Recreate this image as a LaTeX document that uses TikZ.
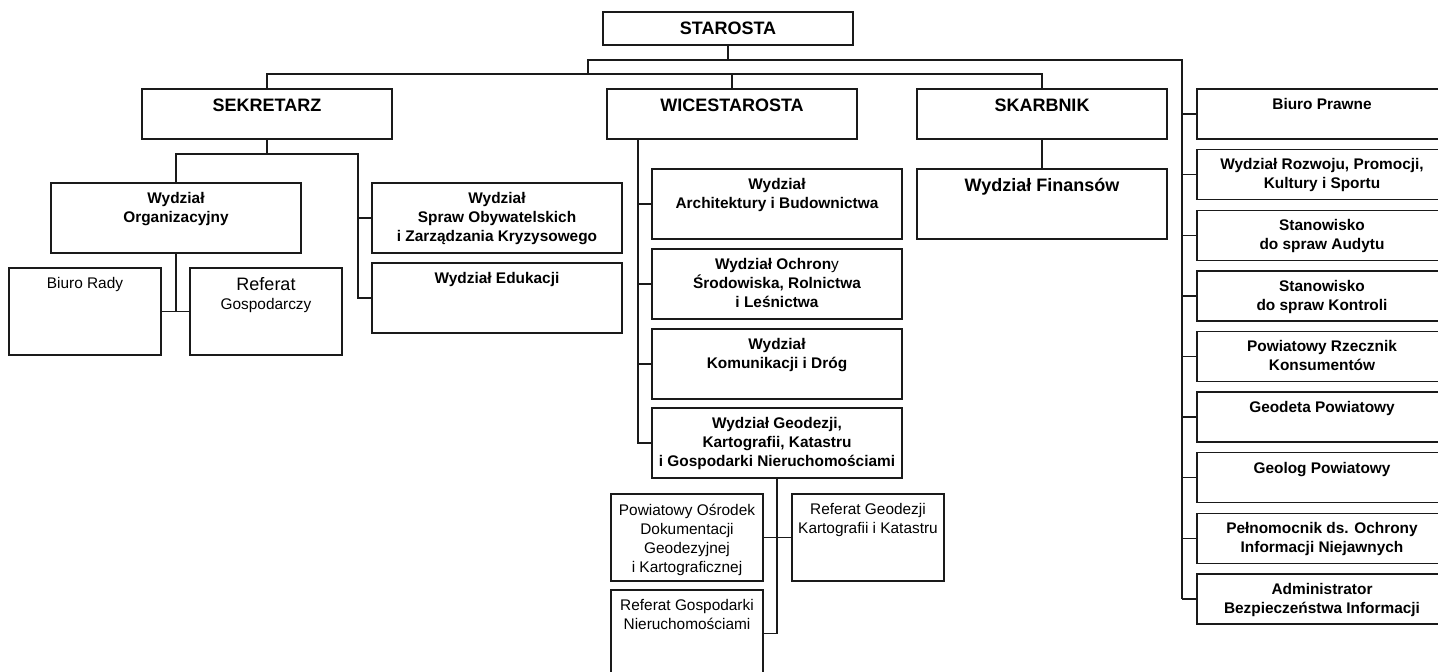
\documentclass[tikz,border=0pt]{standalone}
\usepackage{fontspec}
\setmainfont{Liberation Sans}
\usepackage{xcolor}
\definecolor{cLine}{HTML}{1A1A1A}
\usepackage{tikz}
\usetikzlibrary{positioning}
\newcommand\fHead{\fontsize{18}{21}\selectfont\bfseries}
\newcommand\fBold{\fontsize{15.4}{19}\selectfont\bfseries}
\newcommand\fPlain{\fontsize{15.4}{19}\selectfont}
\tikzset{
  node-box/.style={draw=cLine,line width=1.3pt,inner sep=0pt,outer sep=0pt,
    anchor=north west,minimum width=250pt},
  node-top/.style={node-box,minimum height=33pt},
  node-head/.style={node-box,minimum height=50pt},
  node-dept/.style={node-box,minimum height=70pt},
  node-unit/.style={node-box,minimum width=152pt,minimum height=87pt},
  % teksty przy gornej krawedzi ramki
  txt-head/.style={anchor=north,inner sep=0pt,yshift=-9.5pt,font=\fHead,align=center},
  txt-bold/.style={anchor=north,inner sep=0pt,yshift=-9pt,font=\fBold,align=center},
  txt-plain/.style={anchor=north,inner sep=0pt,yshift=-9.5pt,font=\fPlain,align=center},
  link/.style={draw=cLine,line width=1.3pt},
}

\begin{document}
\begin{tikzpicture}[x=1pt,y=-1pt]
  \useasboundingbox (0,0) rectangle (1438,672);
  % kierownictwo
  \node[node-top,label={[txt-head]north:STAROSTA}] (star) at (603,12) {};
  \node[node-head,label={[txt-head]north:SEKRETARZ}] (sek) at (142,89) {};
  \node[node-head,label={[txt-head]north:WICESTAROSTA}] (wice) at (607,89) {};
  \node[node-head,label={[txt-head]north:SKARBNIK}] (skar) at (917,89) {};
  \node[node-dept,label={[txt-head]north:Wydział Finansów}] (fin) at (917,169) {};

  % stanowiska podlegle staroscie
  \node[node-head,label={[txt-bold]north:Biuro Prawne}] (prawne) at (1197,89) {};
  \node[node-head,label={[txt-bold]north:{Wydział Rozwoju, Promocji,\\Kultury i Sportu}}] (rozwoj) at (1197,149.6) {};
  \node[node-head,label={[txt-bold]north:{Stanowisko\\do spraw Audytu}}] (audyt) at (1197,210.2) {};
  \node[node-head,label={[txt-bold]north:{Stanowisko\\do spraw Kontroli}}] (kontrola) at (1197,270.9) {};
  \node[node-head,label={[txt-bold]north:{Powiatowy Rzecznik\\Konsumentów}}] (rzecznik) at (1197,331.5) {};
  \node[node-head,label={[txt-bold]north:Geodeta Powiatowy}] (geodeta) at (1197,392.1) {};
  \node[node-head,label={[txt-bold]north:Geolog Powiatowy}] (geolog) at (1197,452.7) {};
  \node[node-head,label={[txt-bold]north:{Pełnomocnik ds. Ochrony\\Informacji Niejawnych}}] (pelnom) at (1197,513.4) {};
  \node[node-head,label={[txt-bold]north:{Administrator\\Bezpieczeństwa Informacji}}] (adm) at (1197,574) {};

  % pion sekretarza
  \node[node-dept,label={[txt-bold]north:{Wydział\\Organizacyjny}}] (org) at (51,183) {};
  \node[node-dept,label={[txt-bold]north:{Wydział\\Spraw Obywatelskich\\i Zarządzania Kryzysowego}}] (spraw) at (372,183) {};
  \node[node-dept,label={[txt-bold]north:Wydział Edukacji}] (edu) at (372,263) {};
  \node[node-unit,label={[txt-plain]north:Biuro Rady}] (biuro) at (9,268) {};
  \node[node-unit,label={[txt-plain]north:{{\fontsize{18}{21}\selectfont Referat}\\Gospodarczy}}] (refg) at (190,268) {};

  % pion wicestarosty
  \node[node-dept,label={[txt-bold]north:{Wydział\\Architektury i Budownictwa}}] (arch) at (652,169) {};
  \node[node-dept,label={[txt-bold]north:{Wydział Ochron{\mdseries y}\\Środowiska, Rolnictwa\\i Leśnictwa}}] (ochr) at (652,249) {};
  \node[node-dept,label={[txt-bold]north:{Wydział\\Komunikacji i Dróg}}] (kom) at (652,329) {};
  \node[node-dept,label={[txt-bold]north:{Wydział Geodezji,\\Kartografii, Katastru\\i Gospodarki Nieruchomościami}}] (geo) at (652,408) {};
  \node[node-unit,label={[txt-plain]north:{Powiatowy Ośrodek\\Dokumentacji\\Geodezyjnej\\i Kartograficznej}}] (pod) at (611,494) {};
  \node[node-unit,label={[txt-plain]north:{Referat Geodezji\\Kartografii i Katastru}}] (rgk) at (792,494) {};
  \node[node-unit,label={[txt-plain]north:{Referat Gospodarki\\Nieruchomościami}}] (rgn) at (611,590) {};

  % polaczenia
  \coordinate (bus-top) at (588,60);
  \coordinate (bus-right) at (1182,60);
  \coordinate (bus-low) at (588,74);
  \draw[link] (star.south) -- (star.south |- bus-top);
  \draw[link] (bus-low) -- (bus-top) -- (bus-right) -- (bus-right |- adm.west);
  \draw[link] (sek.north) -- (sek.north |- bus-low) -- (skar.north |- bus-low) -- (skar.north);
  \draw[link] (wice.north) -- (wice.north |- bus-low);
  \foreach \n in {prawne,rozwoj,audyt,kontrola,rzecznik,geodeta,geolog,pelnom,adm}
    \draw[link] (bus-right |- \n.west) -- (\n.west);
  \draw[link] (skar.south) -- (fin.north);

  \coordinate (sek-bus) at (358,154);
  \draw[link] (sek.south) -- (sek.south |- sek-bus);
  \draw[link] (org.north) -- (org.north |- sek-bus) -- (sek-bus) |- (edu.west);
  \draw[link] (sek-bus |- spraw.west) -- (spraw.west);
  \draw[link] (org.south) -- (org.south |- biuro.east);
  \draw[link] (biuro.east) -- (refg.west);

  \coordinate (wice-bus) at (638,139);
  \draw[link] (wice-bus) |- (geo.west);
  \foreach \n in {arch,ochr,kom}
    \draw[link] (wice-bus |- \n.west) -- (\n.west);
  \draw[link] (geo.south) |- (rgn.east);
  \draw[link] (pod.east) -- (rgk.west);
\end{tikzpicture}
\end{document}
